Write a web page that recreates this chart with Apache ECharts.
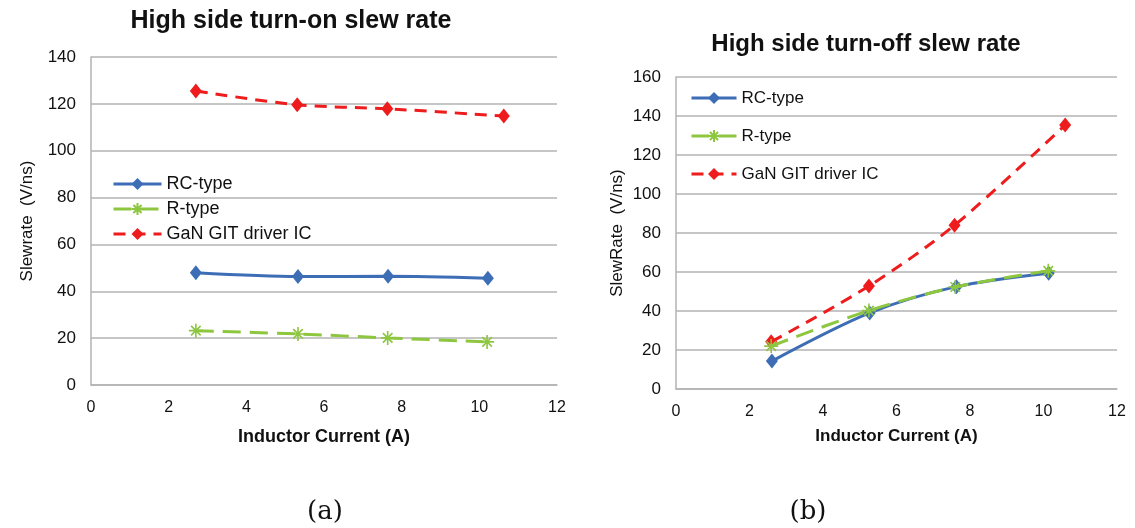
<!DOCTYPE html>
<html>
<head>
<meta charset="utf-8">
<script src="https://cdn.jsdelivr.net/npm/echarts@6/dist/echarts.min.js"></script>
<style>
  html, body { margin: 0; padding: 0; background: #ffffff; }
  #chart { width: 1135px; height: 528px; }
</style>
</head>
<body>
<div id="chart"></div>
<script>
// Series names shown in both legends
const seriesNames = ['RC-type', 'R-type', 'GaN GIT driver IC'];

// (a) High side turn-on slew rate: inductor current (A) vs slew rate (V/ns)
const onCurrentRC = [2.70, 5.33, 7.65, 10.22];
const onSlewRC = [47.9, 46.3, 46.4, 45.6];
const onCurrentR = [2.70, 5.33, 7.64, 10.20];
const onSlewR = [23.2, 21.8, 20.1, 18.4];
const onCurrentGaN = [2.70, 5.31, 7.63, 10.63];
const onSlewGaN = [125.5, 119.6, 117.9, 114.8];

// (b) High side turn-off slew rate
const offCurrentRC = [2.61, 5.27, 7.63, 10.14];
const offSlewRC = [14.3, 39.0, 52.5, 59.4];
const offCurrentR = [2.59, 5.25, 7.60, 10.13];
const offSlewR = [22.0, 40.2, 52.3, 60.6];
const offCurrentGaN = [2.59, 5.25, 7.58, 10.59];
const offSlewGaN = [24.2, 52.8, 84.0, 135.4];

// Axis ranges / tick steps
const xTicks = { min: 0, max: 12, step: 2 };
const yTicksOn = { min: 0, max: 140, step: 20 };
const yTicksOff = { min: 0, max: 160, step: 20 };

const FONT = '"Liberation Sans", Arial, sans-serif';
const BLUE = '#3d6db5';
const GREEN = '#8dc63f';
const RED = '#ee1c1c';
const GRID_GREY = '#b3b3b3';
const ASTERISK = 'path://M0,5L10,5M5,0L5,10M1.6,1.6L8.4,8.4M8.4,1.6L1.6,8.4';

function pairs(xs, ys) { return xs.map((x, i) => [x, ys[i]]); }

function xAxis(gridIndex, gap, nameSize) {
  return {
    type: 'value', gridIndex: gridIndex,
    min: xTicks.min, max: xTicks.max, interval: xTicks.step,
    name: 'Inductor Current (A)', nameLocation: 'middle', nameGap: gap,
    nameTextStyle: { fontFamily: FONT, fontSize: nameSize, fontWeight: 'bold', color: '#111' },
    axisLine: { show: true, lineStyle: { color: GRID_GREY, width: 1.5 } },
    axisTick: { show: false },
    axisLabel: { fontFamily: FONT, fontSize: 16, color: '#111', margin: 15 },
    splitLine: { show: false }
  };
}

function yAxis(gridIndex, ticks, name, gap) {
  return {
    type: 'value', gridIndex: gridIndex,
    min: ticks.min, max: ticks.max, interval: ticks.step,
    name: name, nameLocation: 'middle', nameGap: gap,
    nameTextStyle: { fontFamily: FONT, fontSize: 17, color: '#111' },
    axisLine: { show: true, lineStyle: { color: GRID_GREY, width: 1.5 } },
    axisTick: { show: false },
    axisLabel: { fontFamily: FONT, fontSize: 17, color: '#111', margin: 15 },
    splitLine: { show: true, lineStyle: { color: GRID_GREY, width: 1.5 } }
  };
}

function rcSeries(idx, data) {
  return {
    name: seriesNames[0], type: 'line', xAxisIndex: idx, yAxisIndex: idx,
    data: data, smooth: 0.3,
    symbol: 'diamond', symbolSize: [12, 15],
    lineStyle: { color: BLUE, width: 3 },
    itemStyle: { color: BLUE },
    z: 3
  };
}
function rSeries(idx, data) {
  return {
    name: seriesNames[1], type: 'line', xAxisIndex: idx, yAxisIndex: idx,
    data: data, smooth: 0.3,
    symbol: ASTERISK, symbolSize: 14,
    lineStyle: { color: GREEN, width: 3, type: [18, 9] },
    itemStyle: { color: 'rgba(0,0,0,0)', borderColor: GREEN, borderWidth: 1.6 },
    z: 4
  };
}
function ganSeries(idx, data) {
  return {
    name: seriesNames[2], type: 'line', xAxisIndex: idx, yAxisIndex: idx,
    data: data, smooth: 0.3,
    symbol: 'diamond', symbolSize: [12, 15],
    lineStyle: { color: RED, width: 3, type: [12, 8] },
    itemStyle: { color: RED },
    z: 3
  };
}

function legend(left, top, itemWidth, gap, fontSize) {
  return {
    orient: 'vertical', left: left, top: top, padding: 0,
    itemWidth: itemWidth, itemHeight: 15, itemGap: gap,
    selectedMode: false,
    data: seriesNames,
    lineStyle: { width: 3 },
    textStyle: { fontFamily: FONT, fontSize: fontSize, color: '#111', lineHeight: 18 }
  };
}

const chart = echarts.init(document.getElementById('chart'), null, { renderer: 'canvas' });
chart.setOption({
  backgroundColor: '#ffffff',
  animation: false,
  grid: [
    { left: 91, right: 578, top: 57, bottom: 143 },
    { left: 676, right: 18, top: 77, bottom: 139 }
  ],
  xAxis: [xAxis(0, 43, 18), xAxis(1, 39, 17)],
  yAxis: [
    yAxis(0, yTicksOn, 'Slewrate  (V/ns)', 55),
    yAxis(1, yTicksOff, 'SlewRate  (V/ns)', 50)
  ],
  legend: [legend(112, 175, 48, 7, 18), legend(690, 89, 45, 20, 17)],
  series: [
    rcSeries(0, pairs(onCurrentRC, onSlewRC)),
    rSeries(0, pairs(onCurrentR, onSlewR)),
    ganSeries(0, pairs(onCurrentGaN, onSlewGaN)),
    rcSeries(1, pairs(offCurrentRC, offSlewRC)),
    rSeries(1, pairs(offCurrentR, offSlewR)),
    ganSeries(1, pairs(offCurrentGaN, offSlewGaN))
  ],
  graphic: [
    { type: 'text', x: 291, y: 21,
      style: { text: 'High side turn-on slew rate', x: 0, y: 0, align: 'center', verticalAlign: 'middle',
               font: 'bold 25px ' + FONT, fill: '#111' } },
    { type: 'text', x: 866, y: 44,
      style: { text: 'High side turn-off slew rate', x: 0, y: 0, align: 'center', verticalAlign: 'middle',
               font: 'bold 24px ' + FONT, fill: '#111' } },
    { type: 'text', x: 325, y: 512,
      style: { text: '(a)', align: 'center', verticalAlign: 'middle',
               font: '26px "DejaVu Serif", "Liberation Serif", serif', fill: '#111' } },
    { type: 'text', x: 808, y: 512,
      style: { text: '(b)', align: 'center', verticalAlign: 'middle',
               font: '26px "DejaVu Serif", "Liberation Serif", serif', fill: '#111' } }
  ]
});
</script>
</body>
</html>
